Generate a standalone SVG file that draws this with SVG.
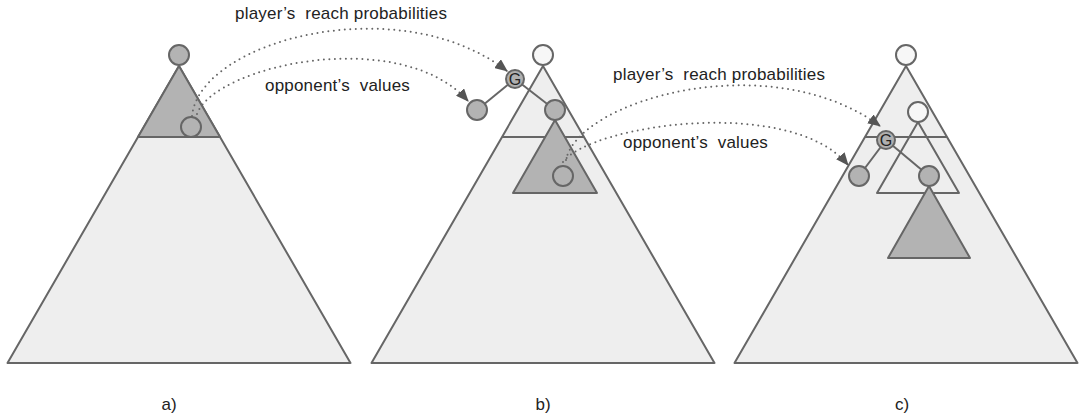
<svg xmlns="http://www.w3.org/2000/svg" width="1081" height="417" viewBox="0 0 1081 417">
<defs>
<style>
.tri{fill:#eeeeee;stroke:#666666;stroke-width:2;stroke-linejoin:round}
.dark{fill:#b3b3b3;stroke:#666666;stroke-width:2;stroke-linejoin:round}
.ln{stroke:#666666;stroke-width:2;fill:none}
.gc{fill:#b3b3b3;stroke:#666666;stroke-width:2}
.wc{fill:#f7f7f7;stroke:#666666;stroke-width:2}
.g{fill:#b0b0b0;stroke:#666666;stroke-width:2}
.dot{fill:none;stroke:#666666;stroke-width:2;stroke-linecap:round;stroke-dasharray:0 5.5}
.lbl{font-family:"Liberation Sans",Arial,sans-serif;font-size:17px;fill:#222222;letter-spacing:0.2px;white-space:pre}
.cap{font-family:"Liberation Sans",Arial,sans-serif;font-size:17px;fill:#222222;text-anchor:middle}
.gt{font-family:"Liberation Sans",Arial,sans-serif;font-size:16px;fill:#222222;text-anchor:middle}
</style>
<marker id="arr" markerUnits="userSpaceOnUse" markerWidth="13" markerHeight="11" refX="12" refY="5.5" orient="auto" viewBox="0 0 13 11">
<path d="M0,0 L13,5.5 L0,11 z" fill="#555555"/>
</marker>
</defs>
<rect width="1081" height="417" fill="#ffffff"/>

<g id="tree-a">
<polygon class="tri" points="179,66 350.5,363 7.5,363"/>
<polygon class="dark" points="179,66 220,137 138,137"/>
<circle class="gc" cx="179" cy="55" r="10"/>
<circle class="gc" cx="191" cy="127" r="10"/>
</g>

<g id="tree-b">
<polygon class="tri" points="543,66 714.5,363 371.5,363"/>
<line class="ln" x1="502" y1="137" x2="584" y2="137"/>
<circle class="wc" cx="543" cy="55" r="10"/>
<line class="ln" x1="515" y1="79" x2="477" y2="110"/>
<line class="ln" x1="515" y1="79" x2="555" y2="110"/>
<polygon class="dark" points="555,120 597,193 513,193"/>
<circle class="gc" cx="477" cy="110" r="10"/>
<circle class="gc" cx="555" cy="110" r="10"/>
<circle class="gc" cx="563" cy="176" r="10"/>
<circle class="g" cx="515" cy="79" r="9"/>
<text class="gt" x="515" y="84.8">G</text>
</g>

<g id="tree-c">
<polygon class="tri" points="906,66 1077.5,363 734.5,363"/>
<circle class="wc" cx="906" cy="55" r="10"/>
<polygon class="tri" points="918,122 959,193 877,193"/>
<line class="ln" x1="865" y1="137" x2="947" y2="137"/>
<circle class="wc" cx="918" cy="112" r="10"/>
<line class="ln" x1="886" y1="140" x2="859" y2="176"/>
<line class="ln" x1="886" y1="140" x2="929" y2="176"/>
<polygon class="dark" points="929,186 970,258 888,258"/>
<circle class="gc" cx="859" cy="176" r="10"/>
<circle class="gc" cx="929" cy="176" r="10"/>
<circle class="g" cx="886" cy="140" r="9"/>
<text class="gt" x="886" y="145.8">G</text>
</g>

<g id="connectors">
<path class="dot" d="M192,116 C200,40 400,-12 507,71" marker-end="url(#arr)"/>
<path class="dot" d="M197,114 C215,65 400,25 468,101" marker-end="url(#arr)"/>
<path class="dot" d="M566,160 C578,100 770,45 880,126" marker-end="url(#arr)"/>
<path class="dot" d="M563,162 C590,125 790,95 848,165" marker-end="url(#arr)"/>
</g>

<g id="labels">
<text class="lbl" x="235" y="19" xml:space="preserve">player’s  reach probabilities</text>
<text class="lbl" x="265" y="91" xml:space="preserve">opponent’s  values</text>
<text class="lbl" x="613" y="80" xml:space="preserve">player’s  reach probabilities</text>
<text class="lbl" x="623" y="148" xml:space="preserve">opponent’s  values</text>
<text class="cap" x="169" y="410">a)</text>
<text class="cap" x="543" y="410">b)</text>
<text class="cap" x="902" y="410">c)</text>
</g>
</svg>
